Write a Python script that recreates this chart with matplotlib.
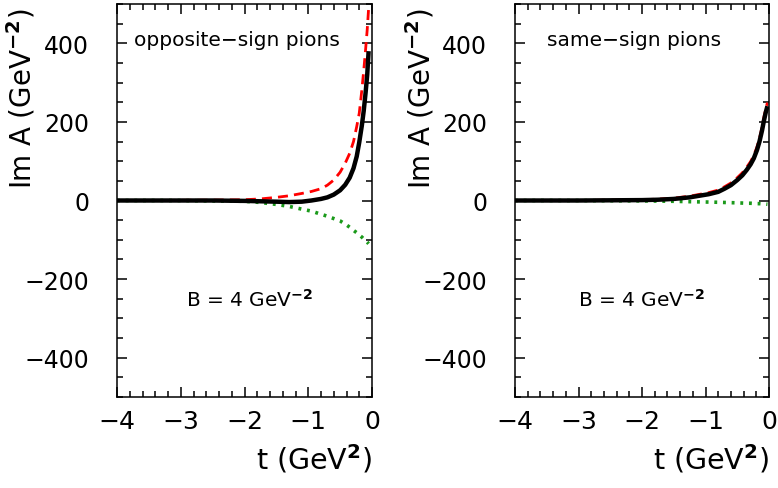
import numpy as np
import matplotlib
matplotlib.use('Agg')
import matplotlib.pyplot as plt
from matplotlib.ticker import MultipleLocator

# t grids (GeV^2)
t_opp = [-4.0, -3.5, -3.0, -2.5, -2.0, -1.75, -1.5, -1.3, -1.1, -0.95, -0.8, -0.7,
         -0.6, -0.5, -0.42, -0.35, -0.29, -0.24, -0.2, -0.16, -0.13, -0.1, -0.075, -0.053]
t_same = [-4.0, -3.5, -3.0, -2.5, -2.0, -1.75, -1.5, -1.25, -1.1, -0.95, -0.8, -0.7,
          -0.6, -0.5, -0.42, -0.35, -0.29, -0.24, -0.19, -0.15, -0.11, -0.08, -0.05, -0.025]

# opposite-sign pions
opp_total = [0, 0, 0, 0, -1, -2, -3, -4, -3, 0, 4, 8,
             15, 26, 40, 58, 82, 112, 148, 190, 228, 275, 320, 380]
opp_pos = [0, 0, 0.5, 1, 2, 4, 8, 12, 18, 23, 30, 39,
           52, 72, 95, 120, 150, 188, 222, 280, 330, 385, 435, 489]
opp_neg = [0, 0, 0, -1, -2, -5, -10, -15, -22, -27, -35, -40,
           -46, -52, -60, -68, -76, -82, -88, -93, -98, -102, -106, -110]

# same-sign pions
same_total = [0, 0, 0, 0.5, 1, 2, 4, 8, 12, 16, 22, 30,
              39, 52, 64, 78, 92, 107, 128, 150, 178, 203, 225, 240]
same_pos = [0, 0, 0, 1, 2, 3.5, 6, 11, 15.5, 20, 26.5, 35,
            44.5, 58, 70.5, 85, 99, 114.5, 136, 158, 186.5, 212, 234, 249]
same_neg = [0, 0, 0, -0.5, -1, -1.5, -2, -3, -3.5, -4, -4.5, -5,
            -5.5, -6, -6.5, -7, -7, -7.5, -8, -8, -8.5, -9, -9, -9.5]

fig = plt.figure(figsize=(7.78, 4.89), dpi=100)
ax1 = fig.add_axes([117/778, 1-398/489, 255/778, 393/489])
ax2 = fig.add_axes([515/778, 1-398/489, 254/778, 393/489])

panels = [
    (ax1, t_opp, opp_total, opp_pos, opp_neg, 'opposite\u2212sign pions', 0.47, 0.52),
    (ax2, t_same, same_total, same_pos, same_neg, 'same\u2212sign pions', 0.47, 0.50),
]

for ax, t, tot, pos, neg, title, tx, bx in panels:
    ax.plot(t, neg, color='#1a9a1a', lw=2.6, linestyle=(0, (0.8, 1.6)))
    ax.plot(t, pos, color='#ff0000', lw=2.0, linestyle=(0, (3.6, 2.2)))
    ax.plot(t, tot, color='black', lw=3.2, solid_capstyle='butt')

    ax.set_xlim(-4, 0)
    ax.set_ylim(-500, 500)
    ax.xaxis.set_major_locator(MultipleLocator(1))
    ax.xaxis.set_minor_locator(MultipleLocator(0.2))
    ax.yaxis.set_major_locator(MultipleLocator(200))
    ax.yaxis.set_minor_locator(MultipleLocator(50))
    ax.tick_params(which='both', direction='in', top=True, right=True, width=1.1)
    ax.tick_params(which='major', length=7)
    ax.tick_params(which='minor', length=4)
    ax.tick_params(axis='y', which='major', pad=20, labelsize=17)
    ax.tick_params(axis='x', which='major', pad=9, labelsize=18)
    for s in ax.spines.values():
        s.set_linewidth(1.1)

    ax.text(tx, 0.91, title, transform=ax.transAxes, ha='center', va='center', fontsize=14.5)
    ax.text(bx, 0.25, 'B = 4 GeV$^{\\mathbf{-2}}$', transform=ax.transAxes,
            ha='center', va='center', fontsize=14.5)
    ax.text(-0.375, 0.99, 'Im A (GeV$^{\\mathbf{-2}}$)', transform=ax.transAxes,
            rotation=90, ha='center', va='top', fontsize=20)
    ax.text(1.0, -0.155, 't (GeV$^{\\mathbf{2}}$)', transform=ax.transAxes,
            ha='right', va='center', fontsize=20.5)

fig.savefig('out.png', dpi=100)
